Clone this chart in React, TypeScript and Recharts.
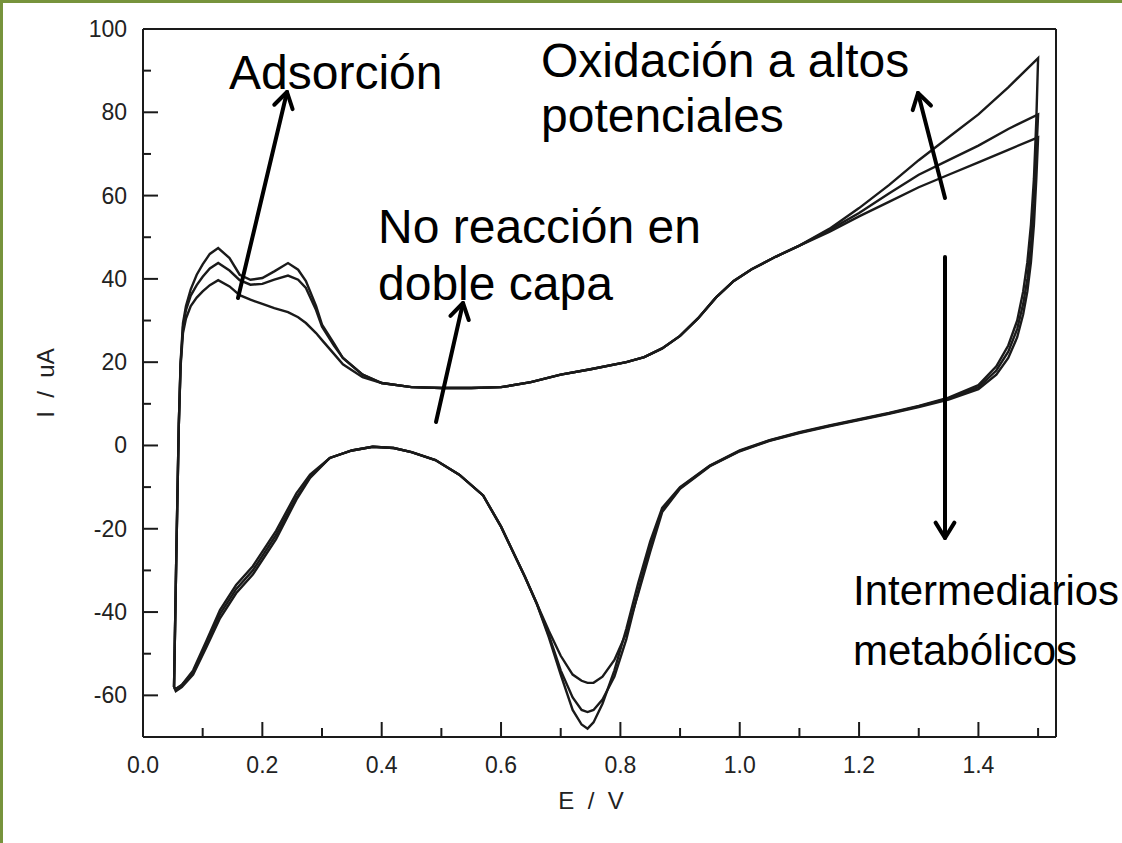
import React from 'react';
import { LineChart, Line, XAxis, YAxis, ReferenceLine } from 'recharts';

// potential (V) for the anodic (forward) sweep
const upperE = [0.052, 0.056, 0.06, 0.063, 0.067, 0.072, 0.08, 0.09, 0.1, 0.112, 0.126, 0.145, 0.162, 0.18, 0.2, 0.22, 0.243, 0.26, 0.273, 0.29, 0.3, 0.32, 0.335, 0.368, 0.4, 0.45, 0.5, 0.55, 0.6, 0.65, 0.7, 0.75, 0.81, 0.84, 0.87, 0.9, 0.93, 0.96, 0.99, 1.02, 1.06, 1.1, 1.15, 1.2, 1.25, 1.3, 1.35, 1.4, 1.45, 1.5];
// current (uA), three cycles
const upperA = [-58, -25, 5, 20, 29.4, 33.5, 37.5, 41, 43.5, 46, 47.4, 45, 41, 39.8, 40.2, 41.8, 43.8, 42.2, 39.5, 33.5, 29, 24.5, 21, 17, 15, 14, 13.8, 13.8, 14, 15.2, 17, 18.3, 20, 21.2, 23.3, 26.3, 30.5, 35.5, 39.5, 42.3, 45.3, 48, 52, 57, 62.5, 68.5, 74, 79.5, 86, 93];
const upperB = [-58, -25, 5, 19.5, 28.5, 32.5, 36, 38.5, 40.5, 42.5, 43.8, 42, 39.7, 38.6, 38.8, 39.8, 40.8, 39.8, 37.8, 32.5, 28.5, 24, 21, 17, 15, 14, 13.8, 13.8, 14, 15.2, 17, 18.3, 20, 21.2, 23.3, 26.3, 30.5, 35.5, 39.5, 42.3, 45.3, 48, 51.7, 55.8, 60.5, 65, 68.5, 72, 76, 79.5];
const upperC = [-58, -25, 5, 19, 27, 30.5, 33.5, 35.5, 37, 38.5, 39.7, 38.2, 36.1, 35, 34, 33, 32, 30.8, 29.4, 27, 25.3, 22, 19.5, 16.4, 15, 14, 13.8, 13.8, 14, 15.2, 17, 18.3, 20, 21.2, 23.3, 26.3, 30.5, 35.5, 39.5, 42.3, 45.3, 48, 51.3, 55, 58.5, 62, 65, 68, 71, 74];

// potential (V) for the cathodic (return) sweep
const lowerE = [1.5, 1.497, 1.493, 1.488, 1.482, 1.475, 1.465, 1.45, 1.43, 1.4, 1.35, 1.3, 1.25, 1.2, 1.15, 1.1, 1.05, 1.0, 0.95, 0.9, 0.87, 0.85, 0.83, 0.81, 0.79, 0.77, 0.755, 0.745, 0.735, 0.72, 0.7, 0.68, 0.66, 0.64, 0.62, 0.6, 0.57, 0.53, 0.49, 0.45, 0.42, 0.385, 0.35, 0.313, 0.28, 0.257, 0.223, 0.184, 0.156, 0.129, 0.106, 0.084, 0.065, 0.055, 0.052];
const lowerA = [93, 78, 64, 53, 44, 37, 30, 24, 19, 14.5, 11.5, 9.5, 7.8, 6.3, 4.8, 3.2, 1.3, -1.2, -4.8, -10, -15, -23, -33, -44, -54, -62, -66.5, -68, -67, -63.5, -55, -46, -38, -31.5, -25.5, -19.5, -12, -7, -3.5, -1.6, -0.6, -0.3, -1.2, -3, -7.8, -13, -22.5, -31, -35.5, -41.5, -48.5, -55, -58, -59, -58];
const lowerB = [79.5, 70, 58, 48, 40, 34, 28, 22.5, 18, 14, 11.3, 9.4, 7.7, 6.2, 4.7, 3.1, 1.2, -1.3, -4.9, -10.2, -15.5, -24, -35, -46.5, -55.5, -61, -63.5, -64, -63.5, -60.5, -54, -45.5, -38, -31.5, -25.5, -19.5, -12, -7, -3.5, -1.6, -0.6, -0.3, -1.2, -3, -7.5, -12.5, -21.5, -30, -34.5, -40.5, -47.5, -54.5, -57.5, -58.5, -58];
const lowerC = [74, 64, 53, 44, 37, 31.5, 26, 21, 17, 13.5, 11, 9.2, 7.6, 6.1, 4.6, 3, 1.1, -1.4, -5, -10.4, -16, -25.5, -35.5, -45, -51.5, -55.5, -57, -57, -56.5, -55, -50.5, -44.5, -38, -31.5, -25.5, -19.5, -12, -7, -3.5, -1.6, -0.6, -0.3, -1.2, -3, -7, -11.5, -20.5, -29, -33.5, -39.5, -47, -54, -57.5, -58.5, -58];

const xTicks = [0, 0.1, 0.2, 0.3, 0.4, 0.5, 0.6, 0.7, 0.8, 0.9, 1.0, 1.1, 1.2, 1.3, 1.4, 1.5];
const yTicks = [-60, -50, -40, -30, -20, -10, 0, 10, 20, 30, 40, 50, 60, 70, 80, 90, 100];
const xMax = 1.53;
const yMin = -70;
const yMax = 100;

const loop = (ue: number[], uy: number[], le: number[], ly: number[]) => [
  ...ue.map((e, k) => ({ e, i: uy[k] })),
  ...le.map((e, k) => ({ e, i: ly[k] })),
];

const cycles = [
  loop(upperE, upperA, lowerE, lowerA),
  loop(upperE, upperB, lowerE, lowerB),
  loop(upperE, upperC, lowerE, lowerC),
];

const ink = '#1a1a1a';
const font = '"Liberation Sans", Arial, sans-serif';
const GAP = 10;

const XTick = (props: any) => {
  const { x, y, payload } = props;
  const v = payload.value;
  const major = Math.round(v * 10) % 2 === 0;
  const axisY = y - GAP;
  return (
    <g>
      <line x1={x} x2={x} y1={axisY} y2={axisY - (major ? 15 : 9)} stroke={ink} strokeWidth={2} />
      {major && (
        <text x={x} y={axisY + 28} textAnchor="middle" dominantBaseline="central" fontFamily={font} fontSize={23} fill="#222">
          {v.toFixed(1)}
        </text>
      )}
    </g>
  );
};

const YTick = (props: any) => {
  const { x, y, payload } = props;
  const v = payload.value;
  const major = v % 20 === 0;
  const axisX = x + GAP;
  return (
    <g>
      <line x1={axisX} x2={axisX + (major ? 15 : 8)} y1={y} y2={y} stroke={ink} strokeWidth={2} />
      {major && (
        <text x={axisX - 16} y={y} textAnchor="end" dominantBaseline="central" fontFamily={font} fontSize={23} fill="#222">
          {v}
        </text>
      )}
    </g>
  );
};

const Arrow = ({ x1, y1, x2, y2 }: { x1: number; y1: number; x2: number; y2: number }) => {
  const a = Math.atan2(y1 - y2, x1 - x2);
  const L = 18;
  const w = 0.55;
  const p1 = [x2 + L * Math.cos(a + w), y2 + L * Math.sin(a + w)];
  const p2 = [x2 + L * Math.cos(a - w), y2 + L * Math.sin(a - w)];
  return (
    <g stroke="#000" strokeWidth={4} strokeLinecap="round" strokeLinejoin="round" fill="none">
      <line x1={x1} y1={y1} x2={x2} y2={y2} />
      <polyline points={`${p1[0]},${p1[1]} ${x2},${y2} ${p2[0]},${p2[1]}`} />
    </g>
  );
};

const noteStyle = { fontFamily: font, fontSize: 48, fill: '#000' };
const smallNote = { fontFamily: font, fontSize: 42, fill: '#000' };

export default function App() {
  return (
    <div style={{ position: 'absolute', left: 0, top: 0, width: 1122, height: 843, background: '#fff', overflow: 'hidden' }}>
      <div style={{ position: 'absolute', left: 0, top: 0, width: 3, height: 843, background: '#77933C' }} />
      <div style={{ position: 'absolute', left: 0, top: 0, width: 1122, height: 3, background: '#77933C' }} />
      <LineChart width={1122} height={843} margin={{ top: 29, right: 66, left: 83, bottom: 56 }}>
        <XAxis
          type="number"
          dataKey="e"
          domain={[0, xMax]}
          ticks={xTicks}
          interval={0}
          allowDataOverflow
          height={50}
          tickSize={0}
          tickMargin={GAP}
          tick={<XTick />}
          axisLine={{ stroke: ink, strokeWidth: 2 }}
          tickLine={false}
        />
        <YAxis
          type="number"
          domain={[yMin, yMax]}
          ticks={yTicks}
          interval={0}
          allowDataOverflow
          width={60}
          tickSize={0}
          tickMargin={GAP}
          tick={<YTick />}
          axisLine={{ stroke: ink, strokeWidth: 2 }}
          tickLine={false}
        />
        <ReferenceLine y={yMax} stroke={ink} strokeWidth={2} />
        <ReferenceLine x={xMax} stroke={ink} strokeWidth={2} />
        {cycles.map((d, k) => (
          <Line
            key={k}
            data={d}
            dataKey="i"
            type="linear"
            stroke={ink}
            strokeWidth={2.4}
            dot={false}
            activeDot={false}
            isAnimationActive={false}
          />
        ))}
      </LineChart>
      <svg width={1122} height={843} style={{ position: 'absolute', left: 0, top: 0, pointerEvents: 'none' }}>
        <text x={45} y={383} transform="rotate(-90 45 383)" textAnchor="middle" dominantBaseline="central" fontFamily={font} fontSize={24} fill="#222" style={{ whiteSpace: 'pre' }}>
          {'I  /  uA'}
        </text>
        <text x={591} y={800} textAnchor="middle" dominantBaseline="central" fontFamily={font} fontSize={24} fill="#222" style={{ whiteSpace: 'pre' }}>
          {'E  /  V'}
        </text>
        <text x={229} y={89} {...noteStyle}>Adsorción</text>
        <text x={541} y={77} {...noteStyle}>Oxidación a altos</text>
        <text x={541} y={132} {...noteStyle}>potenciales</text>
        <text x={378} y={243} {...noteStyle}>No reacción en</text>
        <text x={378} y={300} {...noteStyle}>doble capa</text>
        <text x={853} y={605} {...smallNote}>Intermediarios</text>
        <text x={853} y={665} {...smallNote}>metabólicos</text>
        <Arrow x1={238} y1={298} x2={287} y2={92} />
        <Arrow x1={436} y1={422} x2={463} y2={303} />
        <Arrow x1={945} y1={257} x2={945} y2={538} />
        <Arrow x1={945} y1={198} x2={918} y2={93} />
      </svg>
    </div>
  );
}
